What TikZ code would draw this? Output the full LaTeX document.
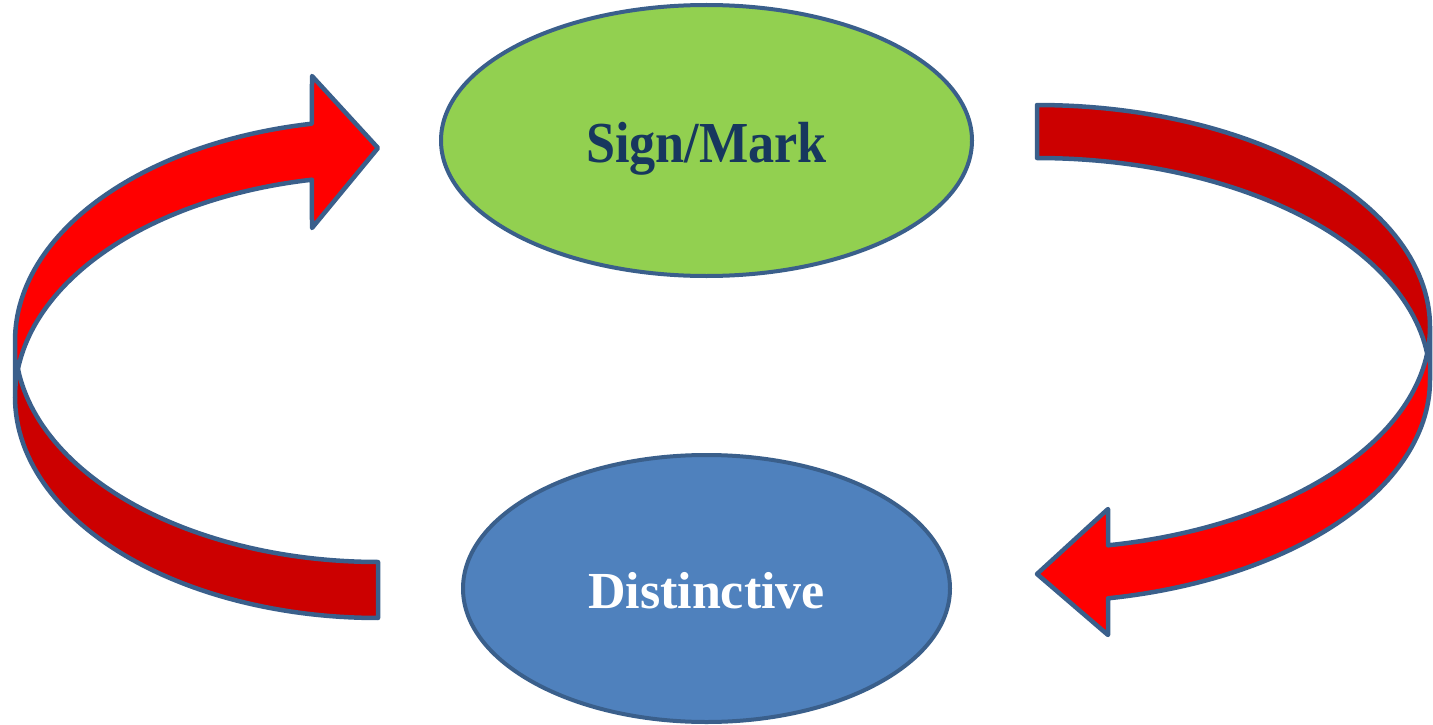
\documentclass[tikz,border=0pt]{standalone}
\usepackage{fontspec}
\setmainfont{Liberation Serif}
\newfontfamily\narrowserif[FakeStretch=0.9]{Liberation Serif}
\usetikzlibrary{shapes.geometric}
\definecolor{rimblue}{HTML}{3A5F8B}
\definecolor{leafgreen}{HTML}{92D050}
\definecolor{skyblue}{HTML}{4F81BD}
\definecolor{navytext}{HTML}{17375E}
\definecolor{frontred}{HTML}{FF0000}
\definecolor{backred}{HTML}{CC0000}
\begin{document}
\begin{tikzpicture}[x=1pt,y=-1pt,
  bubble/.style={ellipse, draw=rimblue, line width=4pt, inner sep=0pt, text depth=0pt},
  band/.style={draw=rimblue, line width=4.5pt, line join=round},
  curve/.style={samples=60, variable=\t},
]
\useasboundingbox (0,0) rectangle (1433,725);

% ---- ellipses ----
\node[bubble, fill=leafgreen, text=navytext, minimum width=531pt, minimum height=271pt,
      font=\narrowserif\fontsize{58}{58}\selectfont\bfseries, text height=43pt]
  (sign) at (706.5,140.5) {Sign/Mark};
\node[bubble, fill=skyblue, text=white, minimum width=487pt, minimum height=267pt,
      font=\fontsize{52}{52}\selectfont\bfseries, text height=39pt]
  (dist) at (706.5,588.5) {Distinctive};

% ---- left curved arrow (tail bottom right, head top right) ----
% outer/inner ellipses: centre x 378, radii 363 x 221, centres y 341 and 397
\fill[backred]
  plot[curve, domain=90:172.72] ({378+363*cos(\t)},{341+221*sin(\t)})
  -- plot[curve, domain=187.28:90] ({378+363*cos(\t)},{397+221*sin(\t)}) -- cycle;
\fill[frontred]
  plot[curve, domain=180:259.52] ({378+363*cos(\t)},{341+221*sin(\t)})
  -- (312,76) -- (378,148) -- (312,228)
  -- plot[curve, domain=259.52:180] ({378+363*cos(\t)},{397+221*sin(\t)}) -- cycle;
\draw[band]
  plot[curve, domain=180:259.52] ({378+363*cos(\t)},{341+221*sin(\t)})
  -- (312,76) -- (378,148) -- (312,228)
  -- plot[curve, domain=259.52:180] ({378+363*cos(\t)},{397+221*sin(\t)}) -- cycle;
\draw[band]
  plot[curve, domain=180:90] ({378+363*cos(\t)},{397+221*sin(\t)})
  -- plot[curve, domain=90:172.72] ({378+363*cos(\t)},{341+221*sin(\t)});

% ---- right curved arrow (tail top left, head bottom left) ----
% ellipses: centre x 1037, radii 393 x 222, centres y 327 and 380
\fill[backred]
  plot[curve, domain=-90:-6.86] ({1037+393*cos(\t)},{380+222*sin(\t)})
  -- plot[curve, domain=6.86:-90] ({1037+393*cos(\t)},{327+222*sin(\t)}) -- cycle;
\fill[frontred]
  plot[curve, domain=0:79.59] ({1037+393*cos(\t)},{327+222*sin(\t)})
  -- (1108,509) -- (1037,574) -- (1108,635)
  -- plot[curve, domain=79.59:0] ({1037+393*cos(\t)},{380+222*sin(\t)}) -- cycle;
\draw[band]
  plot[curve, domain=0:79.59] ({1037+393*cos(\t)},{327+222*sin(\t)})
  -- (1108,509) -- (1037,574) -- (1108,635)
  -- plot[curve, domain=79.59:0] ({1037+393*cos(\t)},{380+222*sin(\t)}) -- cycle;
\draw[band]
  plot[curve, domain=0:-90] ({1037+393*cos(\t)},{327+222*sin(\t)})
  -- plot[curve, domain=-90:-6.86] ({1037+393*cos(\t)},{380+222*sin(\t)});
\end{tikzpicture}
\end{document}
